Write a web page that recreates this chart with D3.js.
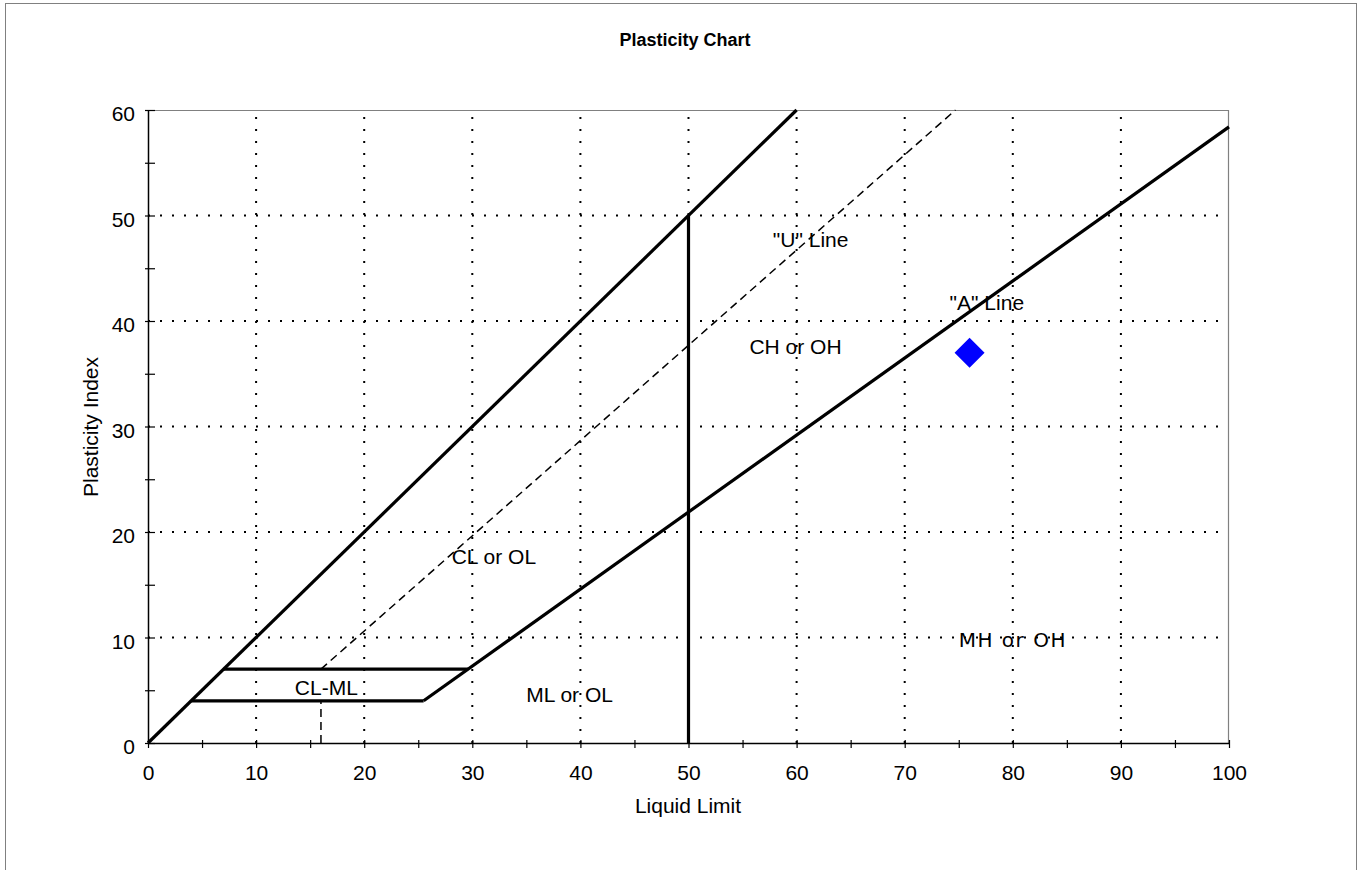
<!DOCTYPE html>
<html>
<head>
<meta charset="utf-8">
<script src="https://d3js.org/d3.v7.min.js"></script>
<style>
    body { margin: 0; background: #fff; }
    text { font-family: "Liberation Sans", Arial, sans-serif; fill: #000; }
    .title { font-size: 18px; font-weight: bold; text-anchor: middle; }
    .axis-label { font-size: 21px; text-anchor: middle; }
    .zone { font-size: 21px; text-anchor: middle; }
    .axis text { font-size: 21px; font-family: "Liberation Sans", Arial, sans-serif; }
</style>
</head>
<body>
<div id="plasticity"></div>
<script>
const container_id = 'plasticity';
const width = 1359, height = 870;
const margin = {
    top: 110,
    bottom: 127,
    left: 148,
    right: 130
}
const plotW = width - (margin.left + margin.right);
const plotH = height - (margin.top + margin.bottom);

// chart data
const xTicks = [0, 5, 10, 15, 20, 25, 30, 35, 40, 45, 50, 55, 60, 65, 70, 75, 80, 85, 90, 95, 100];
const yTicks = [0, 5, 10, 15, 20, 25, 30, 35, 40, 45, 50, 55, 60];
const gridX = [10, 20, 30, 40, 50, 60, 70, 80, 90];
const gridY = [10, 20, 30, 40, 50];

// boundary lines [LL, PI]
const upperLine = [[0, 0], [60, 60]];
const aLine = [[25.5, 4], [100, 58.4]];
const lineLL50 = [[50, 0], [50, 50]];
const clmlLower = [[4, 4], [25.5, 4]];
const clmlUpper = [[7, 7], [29.6, 7]];
const uLine = [[16, 7], [74.7, 60]];
const clmlDivider = [[16, 0], [16, 4]];

// sample point
const sampleLL = [76];
const samplePI = [37];

// zone labels
const zoneNames = ['"U" Line', '"A" Line', 'CH or OH', 'CL or OL', 'CL-ML', 'ML or OL', 'MH or OH'];
const zoneLL = [61.3, 77.6, 59.9, 32.0, 16.5, 39.0, 80.0];
const zonePI = [47.7, 41.7, 37.6, 17.7, 5.2, 4.6, 9.8];

const xScale = d3.scaleLinear().domain([0, 100]).range([0, plotW]);
const yScale = d3.scaleLinear().domain([0, 60]).range([plotH, 0]);

const line = d3.line().x(d => xScale(d[0])).y(d => yScale(d[1]));

function drawFrame(svg) {
    svg.append('rect')
        .attr('x', 5.5).attr('y', 3.5)
        .attr('width', width - 8).attr('height', height + 20)
        .attr('fill', 'none')
        .attr('stroke', '#808080')
        .attr('stroke-width', 1);
}

function drawGrid(g) {
    g.selectAll('.gx')
        .data(gridX)
        .enter().append('line')
        .attr('x1', d => xScale(d)).attr('x2', d => xScale(d))
        .attr('y1', plotH).attr('y2', 0);

    g.selectAll('.gy')
        .data(gridY)
        .enter().append('line')
        .attr('y1', d => yScale(d)).attr('y2', d => yScale(d))
        .attr('x1', 0).attr('x2', plotW);

    g.selectAll('line')
        .attr('stroke', '#000')
        .attr('stroke-width', 2)
        .attr('stroke-dasharray', '2,10');

    // top and right border
    g.append('path')
        .attr('d', `M0,0.5H${plotW - 0.5}V${plotH}`)
        .attr('fill', 'none')
        .attr('stroke', '#808080')
        .attr('stroke-width', 1.2);
}

function drawXAxis(svg) {
    const ax = svg.append('g')
        .attr('class', 'x axis')
        .attr('transform', 'translate(' + margin.left + ',' + (height - margin.bottom) + ')')
        .call(d3.axisBottom(xScale)
            .tickValues(xTicks)
            .tickSizeOuter(0)
            .tickPadding(16)
            .tickFormat(d => d % 10 === 0 ? d : ''));
    ax.select('.domain').attr('stroke-width', 1.5);
    ax.selectAll('.tick line').attr('y1', -3).attr('y2', 5).attr('stroke-width', 1.2);
}

function drawYAxis(svg) {
    const ax = svg.append('g')
        .attr('class', 'y axis')
        .attr('transform', 'translate(' + margin.left + ',' + margin.top + ')')
        .call(d3.axisLeft(yScale)
            .tickValues(yTicks)
            .tickSizeOuter(0)
            .tickPadding(7)
            .tickFormat(d => d % 10 === 0 ? d : ''));
    ax.select('.domain').attr('stroke-width', 1.5);
    ax.selectAll('.tick line').attr('x1', 7).attr('x2', -3).attr('stroke-width', 1.2);
    ax.selectAll('.tick text').attr('dy', '0.5em');
}

function drawLines(g) {
    [upperLine, aLine, lineLL50, clmlLower, clmlUpper].forEach(seg => {
        g.append('path')
            .attr('d', line(seg))
            .attr('fill', 'none')
            .attr('stroke', '#000')
            .attr('stroke-width', 3.2);
    });
    [uLine, clmlDivider].forEach(seg => {
        g.append('path')
            .attr('d', line(seg))
            .attr('fill', 'none')
            .attr('stroke', '#000')
            .attr('stroke-width', 1.5)
            .attr('stroke-dasharray', '8,5');
    });
}

function drawZones(g) {
    g.selectAll('.zone')
        .data(zoneNames)
        .enter().append('text')
        .attr('class', 'zone')
        .attr('x', (d, i) => xScale(zoneLL[i]))
        .attr('y', (d, i) => yScale(zonePI[i]))
        .attr('dy', '0.35em')
        .text(d => d);

    g.selectAll('.zone')
        .filter(d => d === 'MH or OH')
        .style('font-family', '"DejaVu Sans", Verdana, sans-serif')
        .style('font-size', '20px')
        .style('letter-spacing', '1.5px');
}

function drawSample(g) {
    g.selectAll('.sample')
        .data(sampleLL)
        .enter().append('path')
        .attr('class', 'sample')
        .attr('d', d3.symbol().type(d3.symbolSquare).size(450))
        .attr('transform', (d, i) => `translate(${xScale(d)},${yScale(samplePI[i])}) rotate(45)`)
        .attr('fill', '#0000ff');
}

function drawChart() {
    let svg = d3.select('#' + container_id)
        .append('svg')
        .attr('width', width)
        .attr('height', height);

    drawFrame(svg);

    const plot = svg.append('g')
        .attr('transform', `translate(${margin.left}, ${margin.top})`);

    drawGrid(plot);
    drawXAxis(svg);
    drawYAxis(svg);
    drawLines(plot);
    drawZones(plot);
    drawSample(plot);

    svg.append('text')
        .attr('class', 'title')
        .attr('x', 685)
        .attr('y', 46)
        .text('Plasticity Chart');

    svg.append('text')
        .attr('class', 'axis-label')
        .attr('x', 688)
        .attr('y', 813)
        .text('Liquid Limit');

    svg.append('text')
        .attr('class', 'axis-label')
        .attr('x', 98)
        .attr('y', 427)
        .attr('transform', 'rotate(-90, 98, 427)')
        .text('Plasticity Index');
}

drawChart();
</script>
</body>
</html>
